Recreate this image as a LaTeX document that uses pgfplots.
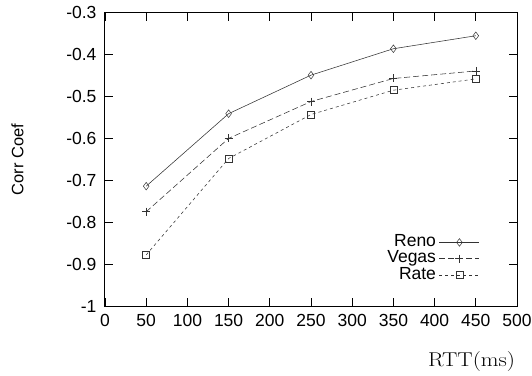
\documentclass[border=0pt]{standalone}
\usepackage{fontspec}
\setsansfont{Liberation Sans}
\usepackage{graphicx}
\usepackage{pgfplots}
\pgfplotsset{compat=1.18}
\begin{document}
\begin{tikzpicture}
\begin{axis}[
  scale only axis,
  width=412pt, height=293.3pt,
  at={(0pt,0pt)}, anchor=south west,
  xmin=0, xmax=500, ymin=-1, ymax=-0.3,
  xtick={0,50,...,500},
  ytick={-1,-0.9,-0.8,-0.7,-0.6,-0.5,-0.4,-0.3},
  yticklabels={-1,-0.9,-0.8,-0.7,-0.6,-0.5,-0.4,-0.3},
  tick align=inside,
  major tick length=8pt,
  axis line style={line width=1pt},
  every tick/.style={black, line width=0.9pt},
  font=\sffamily\fontsize{17.5}{19}\selectfont,
  tick label style={font=\sffamily\fontsize{17.5}{19}\selectfont},
  /pgf/number format/assume math mode=true,
  xticklabel style={yshift=-5pt},
  yticklabel style={xshift=-5pt},
  ylabel={Corr Coef},
  ylabel style={at={(axis description cs:-0.2124,0.5)}, anchor=center, rotate=0, font=\sffamily\fontsize{16.5}{18}\selectfont},
  xlabel={\scalebox{1.15}[1]{\rmfamily\fontsize{20}{22}\selectfont RTT(ms)}},
  xlabel style={at={(axis description cs:0.89,-0.188)}, anchor=center},
  legend style={at={(rel axis cs:0.91,0.245)}, anchor=north east, draw=none, fill=none,
    legend cell align=right, font=\sffamily\fontsize{17.5}{17}\selectfont,
    row sep=0pt, column sep=3pt, inner sep=0pt,
    nodes={inner sep=0.2pt, text height=12.2pt, text depth=3.6pt}},
  legend plot pos=right,
  legend image code/.code={\draw[mark repeat=2,mark phase=2,#1] plot coordinates {(0pt,0pt) (20pt,0pt) (40pt,0pt)};},
]
\addplot[black!80, line width=0.55pt, mark=diamond, mark size=3.8pt, mark options={solid, line width=0.5pt}]
  coordinates {(50,-0.714) (150,-0.541) (250,-0.449) (350,-0.386) (450,-0.355)};
\addlegendentry{Reno}
\addplot[black!80, line width=0.55pt, dash pattern=on 6pt off 3pt, mark=+, mark size=4pt, mark options={solid, line width=0.6pt}]
  coordinates {(50,-0.775) (150,-0.600) (250,-0.512) (350,-0.457) (450,-0.439)};
\addlegendentry{Vegas}
\addplot[black!80, line width=0.55pt, dash pattern=on 3pt off 3pt, mark=square, mark size=3.5pt, mark options={solid, line width=0.6pt}]
  coordinates {(50,-0.878) (150,-0.648) (250,-0.543) (350,-0.485) (450,-0.458)};
\addlegendentry{Rate}
\end{axis}
\pgfresetboundingbox
\path (-105pt,-69pt) rectangle (427pt,306pt);
\end{tikzpicture}
\end{document}
